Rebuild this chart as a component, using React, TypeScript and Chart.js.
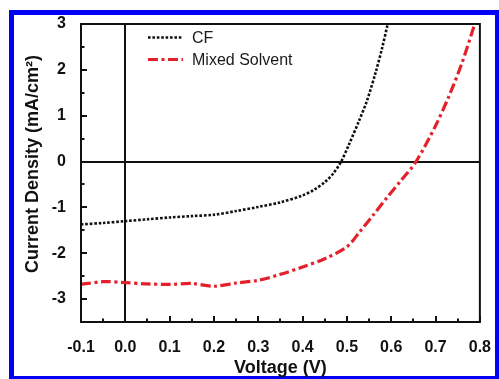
import React, { useEffect, useRef } from "react";
import { Chart, registerables } from "chart.js";

Chart.register(...registerables);

// ---- data ----
const SERIES_NAMES = ["CF", "Mixed Solvent"];
const CF_VOLTAGE = [-0.1, -0.05, 0, 0.05, 0.1, 0.15, 0.2, 0.25, 0.3, 0.35, 0.4, 0.425, 0.45, 0.47, 0.487, 0.505, 0.527, 0.545, 0.565, 0.58, 0.592];
const CF_CURRENT = [-1.37, -1.34, -1.3, -1.26, -1.22, -1.19, -1.16, -1.08, -0.99, -0.89, -0.74, -0.62, -0.45, -0.25, 0, 0.38, 0.88, 1.32, 1.95, 2.5, 3.0];
const MS_VOLTAGE = [-0.1, -0.05, 0, 0.05, 0.1, 0.15, 0.2, 0.25, 0.3, 0.35, 0.4, 0.45, 0.5, 0.53, 0.56, 0.59, 0.62, 0.656, 0.7, 0.73, 0.76, 0.79];
const MS_CURRENT = [-2.68, -2.62, -2.64, -2.67, -2.68, -2.66, -2.72, -2.65, -2.59, -2.46, -2.3, -2.12, -1.86, -1.52, -1.16, -0.79, -0.44, 0, 0.78, 1.42, 2.16, 3.05];
const X_TICKS = [-0.1, 0, 0.1, 0.2, 0.3, 0.4, 0.5, 0.6, 0.7, 0.8];
const X_MINOR = [-0.05, 0.05, 0.15, 0.25, 0.35, 0.45, 0.55, 0.65, 0.75];
const Y_TICKS = [-3, -2, -1, 0, 1, 2, 3];
const Y_MINOR = [-2.5, -1.5, -0.5, 0.5, 1.5, 2.5];
const X_TITLE = "Voltage (V)";
const Y_TITLE = "Current Density (mA/cm\u00B2)";

const FONT = "Arial, 'Liberation Sans', Helvetica, sans-serif";
const CF_COLOR = "#111111";
const MS_COLOR = "#e4212b";
const CF_DASH = [2.6, 1.8];
const MS_DASH = [10, 3.5, 3, 3.5];

const decor = {
  id: "decor",
  beforeDatasetsDraw(chart: any) {
    const { ctx, chartArea: a, scales } = chart;
    const x = scales.x, y = scales.y;
    ctx.save();
    ctx.strokeStyle = "#111";
    ctx.lineWidth = 2;
    const x0 = Math.round(x.getPixelForValue(0));
    const y0 = Math.round(y.getPixelForValue(0));
    ctx.beginPath();
    ctx.moveTo(x0, a.top);
    ctx.lineTo(x0, a.bottom);
    ctx.moveTo(a.left, y0);
    ctx.lineTo(a.right, y0);
    ctx.stroke();
    ctx.restore();
  },
  afterDatasetsDraw(chart: any) {
    const { ctx, chartArea: a, scales } = chart;
    const x = scales.x, y = scales.y;
    ctx.save();
    ctx.strokeStyle = "#111";
    ctx.lineWidth = 2;
    ctx.strokeRect(a.left, a.top, a.right - a.left, a.bottom - a.top);
    ctx.beginPath();
    X_TICKS.forEach((v) => {
      const px = Math.round(x.getPixelForValue(v));
      ctx.moveTo(px, a.bottom);
      ctx.lineTo(px, a.bottom - 6);
    });
    X_MINOR.forEach((v) => {
      const px = Math.round(x.getPixelForValue(v));
      ctx.moveTo(px, a.bottom);
      ctx.lineTo(px, a.bottom - 3.5);
    });
    Y_TICKS.forEach((v) => {
      const py = Math.round(y.getPixelForValue(v));
      ctx.moveTo(a.left, py);
      ctx.lineTo(a.left + 6, py);
    });
    Y_MINOR.forEach((v) => {
      const py = Math.round(y.getPixelForValue(v));
      ctx.moveTo(a.left, py);
      ctx.lineTo(a.left + 3.5, py);
    });
    ctx.stroke();

    // legend
    const lx0 = a.left + 67;
    const lx1 = a.left + 102;
    const tx = a.left + 111;
    const rows = [
      { y: a.top + 13.5, color: CF_COLOR, dash: CF_DASH, w: 2.6, label: SERIES_NAMES[0] },
      { y: a.top + 35.5, color: MS_COLOR, dash: MS_DASH, w: 3.2, label: SERIES_NAMES[1] },
    ];
    rows.forEach((r) => {
      ctx.beginPath();
      ctx.setLineDash(r.dash);
      ctx.strokeStyle = r.color;
      ctx.lineWidth = r.w;
      ctx.moveTo(lx0, r.y);
      ctx.lineTo(lx1, r.y);
      ctx.stroke();
      ctx.setLineDash([]);
      ctx.fillStyle = "#1a1a1a";
      ctx.font = `16px ${FONT}`;
      ctx.textAlign = "left";
      ctx.textBaseline = "middle";
      ctx.fillText(r.label, tx, r.y + 1);
    });

    // axis titles
    ctx.fillStyle = "#111";
    ctx.font = `bold 18px ${FONT}`;
    ctx.textAlign = "center";
    ctx.textBaseline = "alphabetic";
    ctx.fillText(X_TITLE, (a.left + a.right) / 2, 373);
    ctx.translate(38, 164);
    ctx.rotate(-Math.PI / 2);
    ctx.fillText(Y_TITLE, 0, 0);
    ctx.restore();
  },
};

export default function App() {
  const ref = useRef<HTMLCanvasElement | null>(null);
  useEffect(() => {
    if (!ref.current) return;
    const chart = new Chart(ref.current, {
      type: "line",
      data: {
        datasets: [
          {
            label: SERIES_NAMES[0],
            data: CF_VOLTAGE.map((v, i) => ({ x: v, y: CF_CURRENT[i] })),
            borderColor: CF_COLOR,
            borderWidth: 2.6,
            borderDash: CF_DASH,
            pointRadius: 0,
            tension: 0.3,
            fill: false,
          },
          {
            label: SERIES_NAMES[1],
            data: MS_VOLTAGE.map((v, i) => ({ x: v, y: MS_CURRENT[i] })),
            borderColor: MS_COLOR,
            borderWidth: 3.2,
            borderDash: MS_DASH,
            pointRadius: 0,
            tension: 0.3,
            fill: false,
          },
        ],
      },
      options: {
        animation: false,
        responsive: false,
        events: [],
        layout: { padding: { left: 0, top: 24, right: 12, bottom: 0 } },
        plugins: { legend: { display: false }, tooltip: { enabled: false }, title: { display: false } },
        scales: {
          x: {
            type: "linear",
            min: -0.1,
            max: 0.8,
            grid: { display: false },
            border: { display: false },
            afterBuildTicks: (s: any) => {
              s.ticks = X_TICKS.map((v) => ({ value: v }));
            },
            afterFit: (s: any) => {
              s.height = 57;
            },
            ticks: {
              autoSkip: false,
              maxRotation: 0,
              padding: 8,
              color: "#111",
              font: { family: FONT, size: 16, weight: "bold" },
              callback: (v: any) => Number(v).toFixed(1),
            },
          },
          y: {
            type: "linear",
            min: -3.5,
            max: 3,
            grid: { display: false },
            border: { display: false },
            afterBuildTicks: (s: any) => {
              s.ticks = Y_TICKS.map((v) => ({ value: v }));
            },
            afterFit: (s: any) => {
              s.width = 81;
            },
            ticks: {
              autoSkip: false,
              padding: 7,
              color: "#111",
              font: { family: FONT, size: 16, weight: "bold" },
              callback: (v: any) => String(v),
            },
          },
        },
      },
      plugins: [decor],
    } as any);
    return () => chart.destroy();
  }, []);

  return (
    <div style={{ position: "fixed", left: 0, top: 0, width: 499, height: 379, overflow: "hidden", background: "#fff" }}>
      <div
        style={{
          position: "absolute",
          left: 9,
          top: 10,
          width: 491,
          height: 371,
          border: "5px solid #0000f5",
          boxSizing: "border-box",
        }}
      />
      <canvas ref={ref} width={499} height={379} style={{ position: "absolute", left: 0, top: 0, width: 499, height: 379 }} />
    </div>
  );
}
